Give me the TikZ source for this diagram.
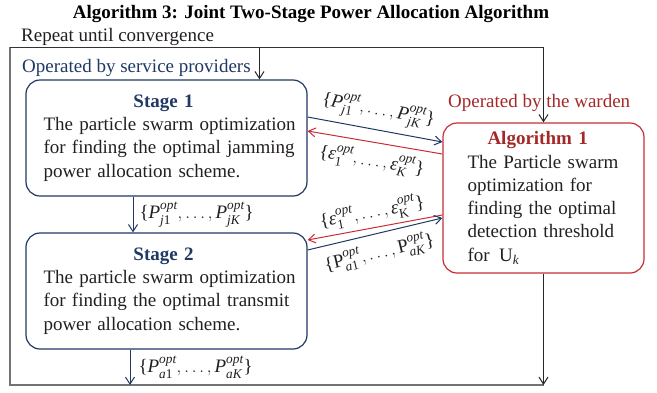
\documentclass[tikz,border=0pt]{standalone}
\usepackage{amsmath}
\usepackage{fontspec}
\setmainfont{Liberation Serif}
\usetikzlibrary{arrows.meta,calc}
\definecolor{navy}{RGB}{31,56,100}
\definecolor{boxred}{RGB}{200,45,55}
\definecolor{txtred}{RGB}{165,40,40}
\definecolor{txt}{RGB}{35,31,32}
\newcommand\PsetJ{$\text{\{}\textit{P}^{\textit{opt}}_{\textit{j}\text{1}},\ldots,\textit{P}^{\textit{opt}}_{\textit{jK}}\text{\}}$}
\newcommand\PsetA{$\text{\{}\textit{P}^{\textit{opt}}_{\textit{a}\text{1}},\ldots,\textit{P}^{\textit{opt}}_{\textit{aK}}\text{\}}$}
\newcommand\PsetAup{$\text{\{}\text{P}^{\textit{opt}}_{\textit{a}\text{1}},\ldots,\text{P}^{\textit{opt}}_{\textit{aK}}\text{\}}$}
\newcommand\EpsSet{$\text{\{}\textit{ε}^{\textit{opt}}_{\text{1}},\ldots,\textit{ε}^{\textit{opt}}_{\textit{K}}\text{\}}$}
\newcommand\EpsSetup{$\text{\{}\textit{ε}^{\textit{opt}}_{\text{1}},\ldots,\textit{ε}^{\textit{opt}}_{\text{K}}\text{\}}$}
\newcommand\ind{\hspace*{8pt}}
\newcommand\indA{\hspace*{4pt}}
\begin{document}
\begin{tikzpicture}[x=1pt,y=-1pt,
  every node/.style={font=\fontsize{19}{23.3}\selectfont, text=txt, inner sep=0pt},
  stagebox/.style={draw=navy, line width=1.2pt, rounded corners=14pt, minimum width=281pt, minimum height=116pt, text width=262pt, align=left},
  algbox/.style={draw=boxred, line width=1.2pt, rounded corners=14pt, minimum width=201pt, minimum height=150pt, text width=160pt, align=left},
  frameline/.style={draw=black!80, line width=1pt},
  graylines/.style={draw=black!55, line width=1.5pt},
  arr/.style={-{Straight Barb[length=7pt,width=9pt]}, line width=1pt},
  lbl/.style={text=txt}]
\useasboundingbox (0,0) rectangle (657,392);
\node[font=\fontsize{19}{23}\selectfont\bfseries, text=black, anchor=base] (title) at (311,18) {Algorithm 3: Joint Two-Stage Power Allocation Algorithm};
\node[anchor=base west] (repeat) at (21,41) {Repeat until convergence};
\node[anchor=base west, text=navy] (opsp) at (22,72) {Operated by service providers};
\node[anchor=base west, text=txtred] (opw) at (448,107) {Operated by the warden};

\node[stagebox] (s1) at (166.5,138) {\hspace*{98pt}\textbf{\color{navy}Stage 1}\\ \ind The particle swarm optimization\\ \ind for finding the optimal jamming\\ \ind power allocation scheme.};
\node[stagebox] (s2) at (166.5,291) {\hspace*{98pt}\textbf{\color{navy}Stage 2}\\ \ind The particle swarm optimization\\ \ind for finding the optimal transmit\\ \ind power allocation scheme.};
\node[algbox] (alg) at (543.5,198) {\hspace*{24pt}\textbf{\color{txtred}Algorithm 1}\\ \indA The Particle swarm\\ \indA optimization for\\ \indA finding the optimal\\ \indA detection threshold\\ \indA for \,U$_{\textit{k}}$};

\coordinate (tl) at (10,47);
\coordinate (tr) at (543.5,47);
\coordinate (bl) at (10,385);
\coordinate (br) at (543.5,385);
\draw[graylines] (tl) -- (bl) -- (br);
\draw[frameline] (tr) -- (tl);
\draw[arr, black!85] (tr) -- (alg.north);
\draw[arr, black!85] (alg.south) -- (br);
\coordinate (s1in) at ([xshift=93pt]s1.north);
\draw[arr, black!85] (s1in |- tl) -- (s1in);

\coordinate (a12) at ([xshift=-33.5pt]s1.south);
\draw[arr, navy] (a12) -- (a12 |- s2.north) node[midway, right=6pt, lbl] {\PsetJ};
\coordinate (a2b) at ([xshift=-36.5pt]s2.south);
\draw[arr, navy] (a2b) -- (a2b |- bl) node[midway, right=8pt, lbl] {\PsetA};

\draw[arr, navy] ([yshift=21pt]s1.east) -- ([yshift=56pt]alg.west) node[midway, sloped, above=6pt, lbl] {\PsetJ};
\draw[arr, boxred] ([yshift=44pt]alg.west) -- ([yshift=7pt]s1.east) node[midway, sloped, below=7pt, lbl] {\EpsSet};
\draw[arr, boxred] ([yshift=-17pt]alg.west) -- ([yshift=51pt]s2.east) node[midway, sloped, above=4pt, lbl] {\EpsSetup};
\draw[arr, navy] ([yshift=41pt]s2.east) -- ([yshift=-20pt]alg.west) node[midway, sloped, below=8pt, lbl] {\PsetAup};
\end{tikzpicture}
\end{document}
